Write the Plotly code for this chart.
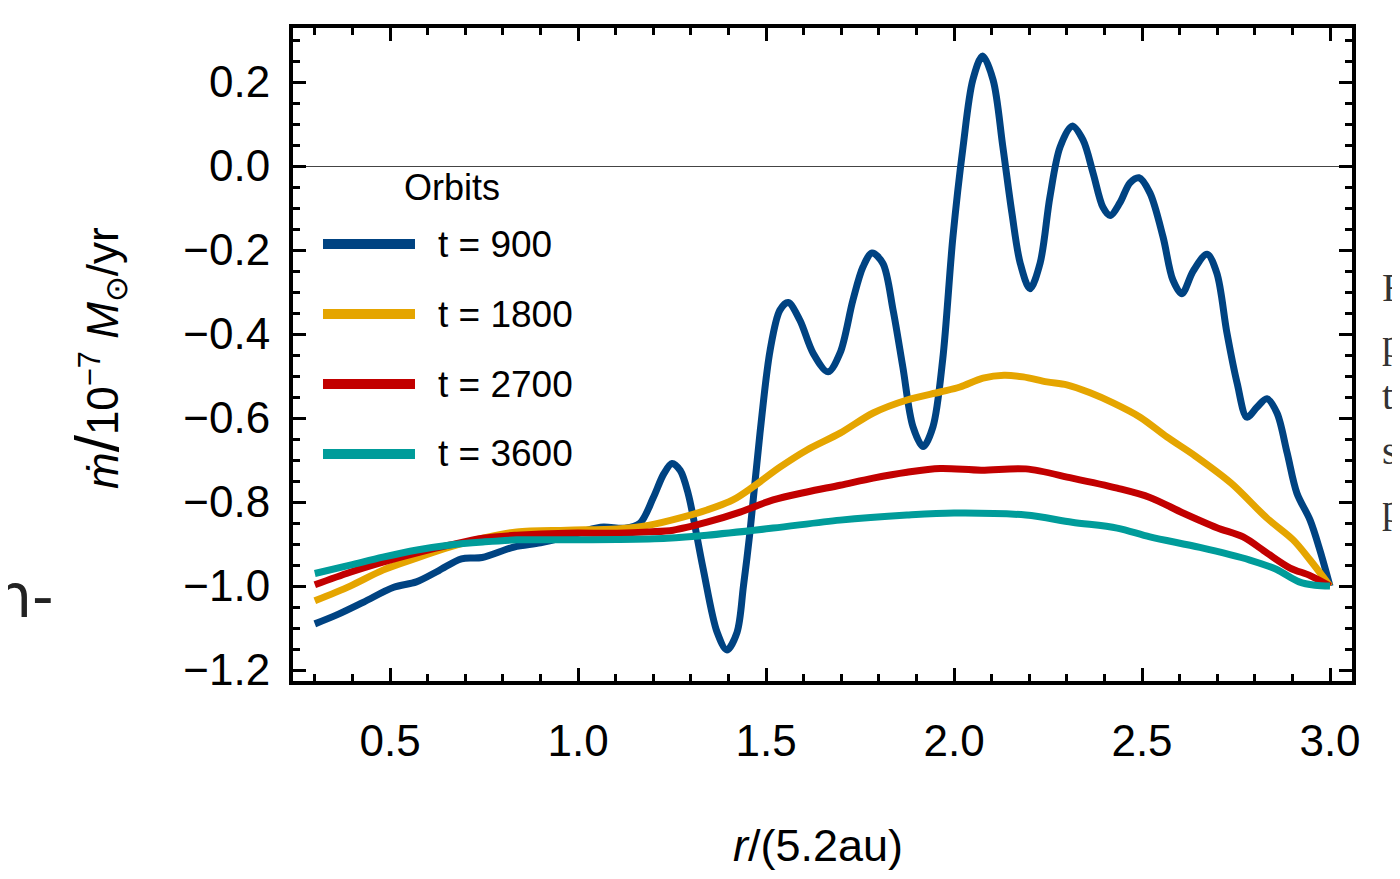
import plotly.graph_objects as go

# ---------------- data ----------------
r_900 = [0.30, 0.36, 0.43, 0.51, 0.57, 0.63, 0.69, 0.745, 0.83, 0.90, 0.97, 1.06, 1.125, 1.165,
         1.20, 1.228, 1.25, 1.272, 1.293, 1.332, 1.37, 1.396, 1.423, 1.44, 1.457, 1.484, 1.511,
         1.537, 1.559, 1.59, 1.625, 1.665, 1.697, 1.731, 1.758, 1.782, 1.811, 1.838, 1.864,
         1.891, 1.918, 1.944, 1.97, 1.997, 2.024, 2.05, 2.076, 2.104, 2.13, 2.154, 2.176,
         2.202, 2.229, 2.255, 2.282, 2.314, 2.343, 2.37, 2.396, 2.415, 2.441, 2.468, 2.492,
         2.521, 2.556, 2.582, 2.606, 2.636, 2.673, 2.699, 2.726, 2.753, 2.779, 2.806, 2.832,
         2.859, 2.886, 2.912, 2.947, 2.973, 3.0]
m_900 = [-1.09, -1.068, -1.038, -1.003, -0.99, -0.963, -0.935, -0.932, -0.907, -0.897, -0.882,
         -0.860, -0.862, -0.850, -0.79, -0.733, -0.708, -0.725, -0.78, -0.955, -1.11, -1.152,
         -1.11, -1.0, -0.874, -0.636, -0.438, -0.343, -0.325, -0.367, -0.445, -0.49, -0.445,
         -0.32, -0.24, -0.207, -0.232, -0.343, -0.479, -0.621, -0.668, -0.621, -0.46, -0.17,
         0.045, 0.205, 0.262, 0.205, 0.045, -0.112, -0.231, -0.292, -0.231, -0.074, 0.045,
         0.095, 0.062, -0.017, -0.098, -0.118, -0.088, -0.040, -0.028, -0.064, -0.169,
         -0.271, -0.304, -0.25, -0.21, -0.255, -0.398, -0.517, -0.598, -0.574, -0.554,
         -0.588, -0.683, -0.779, -0.843, -0.914, -1.0]

r_1800 = [0.30, 0.394, 0.481, 0.572, 0.66, 0.747, 0.837, 0.97, 1.104, 1.19, 1.279, 1.343,
          1.412, 1.465, 1.537, 1.609, 1.697, 1.785, 1.875, 1.963, 2.016, 2.077, 2.133, 2.184,
          2.247, 2.30, 2.362, 2.423, 2.495, 2.566, 2.641, 2.737, 2.832, 2.902, 2.947, 3.0]
m_1800 = [-1.035, -1.0, -0.962, -0.933, -0.907, -0.886, -0.871, -0.867, -0.864, -0.855,
          -0.836, -0.819, -0.795, -0.764, -0.717, -0.676, -0.636, -0.588, -0.557, -0.538,
          -0.526, -0.505, -0.498, -0.502, -0.514, -0.521, -0.540, -0.564, -0.598, -0.645,
          -0.690, -0.755, -0.838, -0.890, -0.938, -1.0]

r_2700 = [0.30, 0.394, 0.481, 0.572, 0.66, 0.747, 0.837, 0.97, 1.104, 1.19, 1.253, 1.343,
          1.431, 1.519, 1.609, 1.697, 1.785, 1.875, 1.963, 2.072, 2.191, 2.314, 2.434, 2.521,
          2.609, 2.699, 2.769, 2.832, 2.894, 2.947, 3.0]
m_2700 = [-0.997, -0.967, -0.943, -0.921, -0.902, -0.886, -0.879, -0.874, -0.874, -0.871,
          -0.867, -0.848, -0.824, -0.795, -0.776, -0.760, -0.743, -0.729, -0.720, -0.724,
          -0.721, -0.743, -0.767, -0.789, -0.826, -0.861, -0.883, -0.921, -0.957, -0.975, -1.0]

r_3600 = [0.30, 0.394, 0.481, 0.572, 0.66, 0.747, 0.837, 0.97, 1.104, 1.237, 1.343, 1.519,
          1.697, 1.875, 2.0, 2.191, 2.314, 2.434, 2.521, 2.654, 2.787, 2.857, 2.918, 2.96, 3.0]
m_3600 = [-0.970, -0.950, -0.931, -0.914, -0.902, -0.895, -0.890, -0.890, -0.889, -0.886,
          -0.879, -0.862, -0.843, -0.831, -0.826, -0.831, -0.848, -0.862, -0.883, -0.908,
          -0.938, -0.960, -0.990, -0.998, -1.0]

series_names = ["t = 900", "t = 1800", "t = 2700", "t = 3600"]
series_r = [r_900, r_1800, r_2700, r_3600]
series_m = [m_900, m_1800, m_2700, m_3600]
colors = ["#004382", "#E5A500", "#C20000", "#009C9A"]

x_tickvals = [0.5, 1.0, 1.5, 2.0, 2.5, 3.0]
x_ticktext = ["0.5", "1.0", "1.5", "2.0", "2.5", "3.0"]
y_tickvals = [0.2, 0.0, -0.2, -0.4, -0.6, -0.8, -1.0, -1.2]
y_ticktext = ["0.2", "0.0", "\u22120.2", "\u22120.4", "\u22120.6", "\u22120.8", "\u22121.0", "\u22121.2"]

# ---------------- figure ----------------
OFF = 8  # page body margin
W, H = 1400 - OFF, 879 - OFF
L, R, T, B = 293 - OFF, 1352 - OFF, 28 - OFF, 681 - OFF

def px_x(px):
    return (px - OFF - L) / (R - L)

def px_y(py):
    return (B - (py - OFF)) / (B - T)

FONT = "Liberation Sans, Arial, Helvetica, sans-serif"

fig = go.Figure()
for name, xs, ys, c in zip(series_names, series_r, series_m, colors):
    fig.add_trace(go.Scatter(x=xs, y=ys, mode="lines", name=name,
                             line=dict(color=c, width=7, shape="spline", smoothing=0.9),
                             showlegend=False))

axis_common = dict(showline=True, linewidth=4, linecolor="black", mirror="allticks",
                   ticks="inside", ticklen=13, tickwidth=3, tickcolor="black",
                   showgrid=False, tickfont=dict(family=FONT, size=44, color="black"))

fig.update_xaxes(range=[0.242, 3.0585], tickvals=x_tickvals, ticktext=x_ticktext,
                 minor=dict(tick0=0, dtick=0.1, ticks="inside", ticklen=7, tickwidth=3,
                            tickcolor="black", showgrid=False),
                 zeroline=False, ticklabelstandoff=18, **axis_common)
fig.update_yaxes(range=[-1.226, 0.3286], tickvals=y_tickvals, ticktext=y_ticktext,
                 minor=dict(tick0=0, dtick=0.05, ticks="inside", ticklen=7, tickwidth=3,
                            tickcolor="black", showgrid=False),
                 zeroline=True, zerolinecolor="#444444", zerolinewidth=1,
                 ticklabelstandoff=10, **axis_common)

shapes = []
annotations = []
# custom legend
legend_rows = [244, 314, 384, 454]
for name, c, py in zip(series_names, colors, legend_rows):
    shapes.append(dict(type="line", xref="paper", yref="paper",
                       x0=px_x(323), x1=px_x(415), y0=px_y(py), y1=px_y(py),
                       line=dict(color=c, width=10)))
    annotations.append(dict(xref="paper", yref="paper", x=px_x(436), y=px_y(py),
                            xanchor="left", yanchor="middle", text=name, showarrow=False,
                            font=dict(family=FONT, size=37, color="black")))
annotations.append(dict(xref="paper", yref="paper", x=px_x(452), y=px_y(187),
                        xanchor="center", yanchor="middle", text="Orbits", showarrow=False,
                        font=dict(family=FONT, size=36, color="black")))

# axis titles
annotations.append(dict(xref="paper", yref="paper", x=px_x(818), y=px_y(845),
                        xanchor="center", yanchor="middle",
                        text="<i>r</i>/(5.2au)", showarrow=False,
                        font=dict(family=FONT, size=45, color="black")))
annotations.append(dict(xref="paper", yref="paper", x=px_x(98), y=px_y(358),
                        xanchor="center", yanchor="middle", textangle=-90,
                        text="<i>m\u0307</i><span style='font-size:62px'>/</span>10<sup>\u22127</sup> <i>M</i><sub>\u2299</sub>/yr",
                        showarrow=False,
                        font=dict(family=FONT, size=44, color="black")))

# fragments of surrounding page text
annotations.append(dict(xref="paper", yref="paper", x=px_x(-8), y=px_y(596),
                        xanchor="left", yanchor="middle", text="n-", showarrow=False,
                        font=dict(family="DejaVu Sans, sans-serif", size=60, color="#222222")))
side_letters = ["F", "p", "t", "s", "p"]
side_rows = [287, 343, 396, 450, 508]
for ch, py in zip(side_letters, side_rows):
    annotations.append(dict(xref="paper", yref="paper", x=px_x(1380), y=px_y(py),
                            xanchor="left", yanchor="middle", text=ch, showarrow=False,
                            font=dict(family="Liberation Serif, serif", size=40, color="#333333")))

fig.update_layout(width=W, height=H, margin=dict(l=L, r=W - R, t=T, b=H - B, pad=0),
                  plot_bgcolor="white", paper_bgcolor="white",
                  shapes=shapes, annotations=annotations, showlegend=False)

fig.write_html("out.html")
